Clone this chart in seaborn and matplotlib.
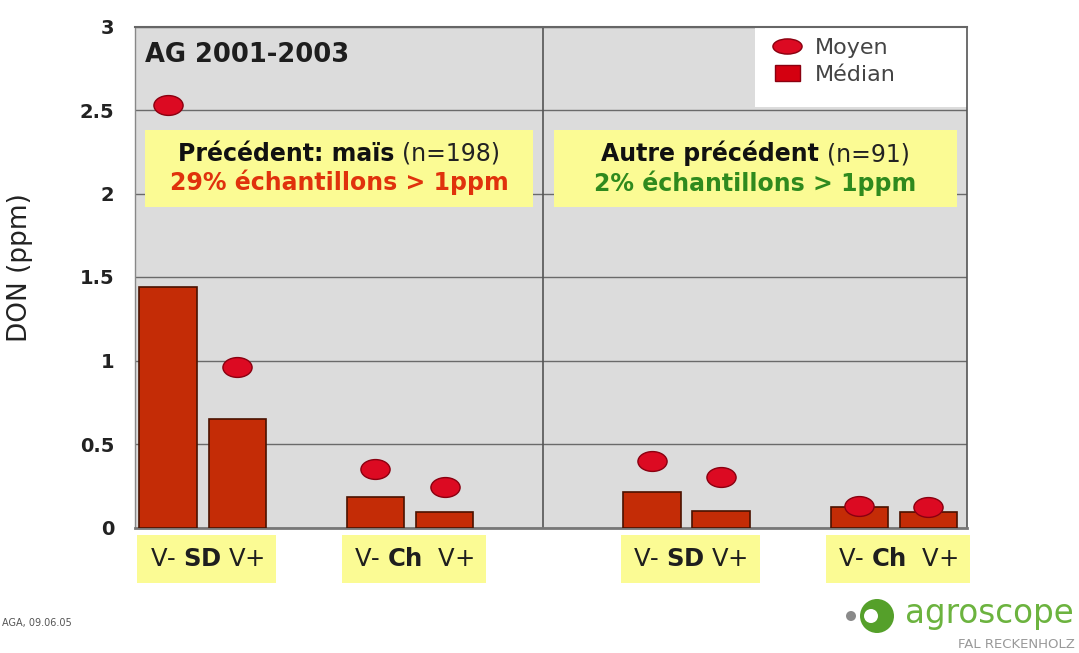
import numpy as np
import matplotlib
matplotlib.use("Agg")
import matplotlib.pyplot as plt
import matplotlib.patches as mpatches
from matplotlib.lines import Line2D
from matplotlib.path import Path
from matplotlib.transforms import Affine2D
from matplotlib.offsetbox import TextArea, HPacker, VPacker, AnnotationBbox
from matplotlib.ticker import FuncFormatter
import pandas as pd
import seaborn as sns


# DON (ppm), AG 2001-2003, two previous crops
precedent = ["maïs"] * 4 + ["autre"] * 4
systeme = ["SD", "SD", "Ch", "Ch"] * 2
variete = ["V-", "V+"] * 4
median = [1.44, 0.65, 0.18, 0.09, 0.21, 0.10, 0.12, 0.09]
moyen = [2.53, 0.96, 0.35, 0.24, 0.40, 0.30, 0.13, 0.12]

group_labels = ["V- $\\mathbf{SD}$ V+", "V- $\\mathbf{Ch}$  V+"] * 2
box_titles = ["Précédent: maïs", "Autre précédent"]
box_counts = ["(n=198)", "(n=91)"]
box_shares = ["29% échantillons > 1ppm", "2% échantillons > 1ppm"]
box_share_colors = ["#e0320c", "#2f8a1e"]

BAR = "#c42c06"
DOT = "#dc0a22"
YELLOW = "#fbfb94"
TXT = "#1e1e1e"

df = pd.DataFrame({
    "precedent": precedent,
    "systeme": systeme,
    "variete": variete,
    "median": median,
    "moyen": moyen,
})
df["key"] = df["precedent"] + " " + df["systeme"] + " " + df["variete"]

# empty category slots give the gaps between groups
keys = list(df["key"])
order = keys[0:2] + ["_g1"] + keys[2:4] + ["_g2", "_g3"] + keys[4:6] + ["_g4"] + keys[6:8]

# circles in the original slide, stretched wide
ellipse = Path.unit_circle().transformed(Affine2D().scale(1.0, 0.68))
flat_ellipse = Path.unit_circle().transformed(Affine2D().scale(1.0, 0.52))

sns.set_style("white")
plt.rcParams["font.family"] = ["DejaVu Sans"]

fig = plt.figure(figsize=(10.79, 6.53), dpi=100)
ax = fig.add_axes([135 / 1079, 1 - 527.5 / 653, 832 / 1079, 501 / 653])
ax.set_facecolor("#dcdcdc")

sns.barplot(data=df, x="key", y="median", order=order, color=BAR, saturation=1,
            width=0.83, edgecolor="#4a1200", linewidth=1.2, errorbar=None,
            ax=ax, zorder=3)
sns.stripplot(data=df, x="key", y="moyen", order=order, jitter=False,
              marker=ellipse, size=21, color=DOT, edgecolor="#8a0010",
              linewidth=1, ax=ax, zorder=4)

ax.set_xlim(-0.48, 11.56)
ax.set_ylim(0, 3)
ax.set_axisbelow(True)
ax.set_yticks(np.arange(0, 3.01, 0.5))
ax.yaxis.set_major_formatter(FuncFormatter(lambda v, _: f"{v:g}"))
ax.grid(axis="y", color="#6a6a6a", linewidth=1)
ax.grid(axis="x", visible=False)
ax.axvline(5.42, color="#555555", linewidth=1.2, zorder=2)

for side, col, lw in [("left", "#888888", 1.0), ("top", "#666666", 1.5),
                      ("right", "#555555", 1.2), ("bottom", "#777777", 2.0)]:
    ax.spines[side].set_visible(True)
    ax.spines[side].set_color(col)
    ax.spines[side].set_linewidth(lw)

# group labels under the axis, in yellow boxes
centers = [(order.index(keys[i]) + order.index(keys[i + 1])) / 2 for i in range(0, 8, 2)]
ax.set_xticks([c + 0.06 for c in centers], group_labels)
ax.tick_params(axis="x", length=0, pad=14, labelsize=17.5, labelcolor=TXT)
for lbl in ax.get_xticklabels():
    lbl.set_bbox(dict(facecolor=YELLOW, edgecolor="none", boxstyle="square,pad=0.5"))

ax.tick_params(axis="y", length=0, pad=15, labelsize=14, labelcolor="#222222")
for lbl in ax.get_yticklabels():
    lbl.set_fontweight("bold")

ax.set_xlabel("")
ax.set_ylabel("DON (ppm)", fontsize=19, color="#222222")
ax.yaxis.set_label_coords(-0.1226, 0.518)

ax.text(-0.34, 2.79, "AG 2001-2003", fontsize=18.5, fontweight="bold",
        color=TXT, va="baseline", ha="left", zorder=5)

# yellow info boxes
box_spans = [(-0.337, 5.28), (5.58, 11.42)]
for (x0, x1), title, count, share, scol in zip(box_spans, box_titles, box_counts,
                                                box_shares, box_share_colors):
    ax.add_patch(mpatches.Rectangle((x0, 1.92), x1 - x0, 0.46, facecolor=YELLOW,
                                    edgecolor="none", zorder=2.5))
    line1 = HPacker(children=[
        TextArea(title, textprops=dict(fontsize=17, fontweight="bold", color="#111111")),
        TextArea(count, textprops=dict(fontsize=17, color="#222222")),
    ], sep=6, pad=0, align="baseline")
    line2 = TextArea(share, textprops=dict(fontsize=17, fontweight="bold", color=scol))
    block = VPacker(children=[line1, line2], sep=3, pad=0, align="center")
    ab = AnnotationBbox(block, ((x0 + x1) / 2, 2.15), xycoords="data",
                        frameon=False, box_alignment=(0.5, 0.5), zorder=5)
    ax.add_artist(ab)

# legend on a white panel in the top right corner
ax.add_patch(mpatches.Rectangle((8.49, 2.52), 11.56 - 8.49, 0.48, facecolor="white",
                                edgecolor="none", zorder=2.5))
handles = [
    Line2D([], [], linestyle="none", marker=flat_ellipse, markersize=21,
           markerfacecolor=DOT, markeredgecolor="#8a0010"),
    mpatches.Patch(facecolor="#d40010", edgecolor="#8a0010"),
]
leg = ax.legend(handles, ["Moyen", "Médian"], loc="upper left",
                bbox_to_anchor=(0.761, 0.99), frameon=False, fontsize=16,
                handlelength=1.13, handleheight=0.68, handletextpad=0.68,
                labelspacing=0.3, borderpad=0.3, borderaxespad=0,
                labelcolor="#444444")
leg.set_zorder(6)

# footer
fig.text(0.002, 1 - 626 / 653, "AGA, 09.06.05", fontsize=7, color="#555555",
         va="baseline", ha="left")
fig.add_artist(mpatches.Circle((8.51, 0.37), 0.05, transform=fig.dpi_scale_trans,
                               facecolor="#8a8a8a", edgecolor="none"))
fig.add_artist(mpatches.Circle((8.77, 0.37), 0.17, transform=fig.dpi_scale_trans,
                               facecolor="#55a02a", edgecolor="none"))
fig.add_artist(mpatches.Circle((8.71, 0.37), 0.07, transform=fig.dpi_scale_trans,
                               facecolor="white", edgecolor="none"))
fig.text(905 / 1079, 30 / 653, "agroscope", fontsize=23.5, color="#6cb33f",
         va="baseline", ha="left")
fig.text(1075 / 1079, 5 / 653, "FAL RECKENHOLZ", fontsize=9.5, color="#999999",
         va="baseline", ha="right")

fig.savefig("out.png", dpi=100)
